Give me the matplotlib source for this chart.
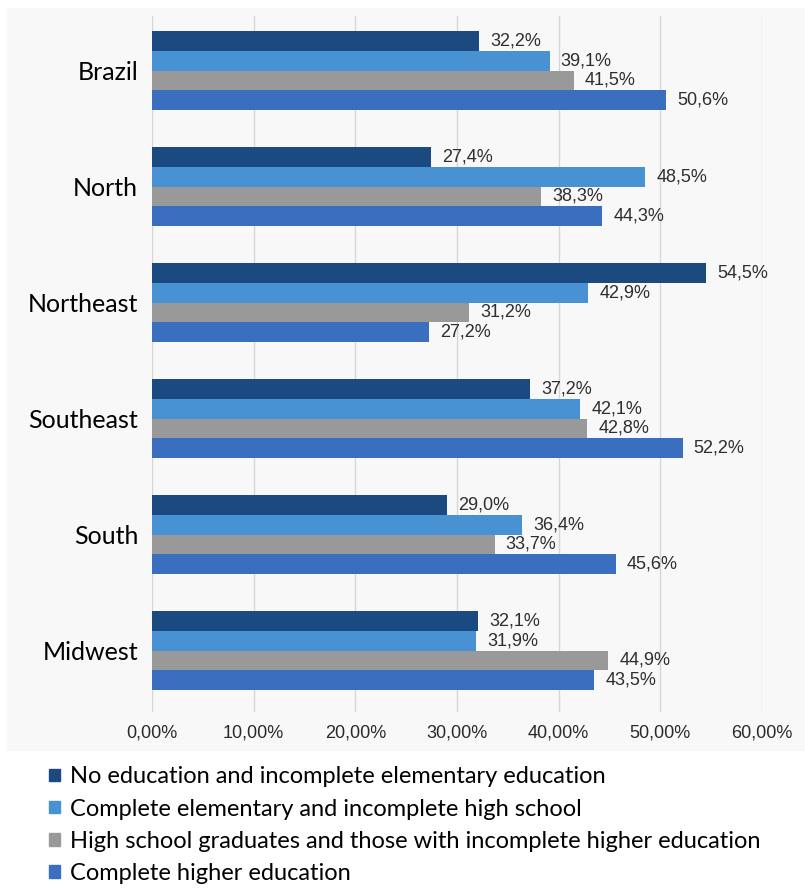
import numpy as np
import matplotlib
matplotlib.use('Agg')
from matplotlib import pyplot as plt
from matplotlib.patches import Patch, Rectangle

regions = ['Brazil', 'North', 'Northeast', 'Southeast', 'South', 'Midwest']
series_names = ['No education and incomplete elementary education',
                'Complete elementary and incomplete high school',
                'High school graduates and those with incomplete higher education',
                'Complete higher education']
no_education = [32.2, 27.4, 54.5, 37.2, 29.0, 32.1]
elementary = [39.1, 48.5, 42.9, 42.1, 36.4, 31.9]
high_school = [41.5, 38.3, 31.2, 42.8, 33.7, 44.9]
higher_ed = [50.6, 44.3, 27.2, 52.2, 45.6, 43.5]
xticks = [0, 10, 20, 30, 40, 50, 60]

colors = ['#1b4a80', '#4891d3', '#999999', '#3a6fc0']
series = [no_education, elementary, high_school, higher_ed]

fig = plt.figure(figsize=(8.05, 8.89), dpi=100)
fig.patches.append(Rectangle((7 / 805, 1 - 750 / 889), 798 / 805, 742 / 889,
                             transform=fig.transFigure, color='#f8f8f8', zorder=-10))
ax = fig.add_axes([152 / 805, 1 - 712 / 889, 610 / 805, 696 / 889])
ax.patch.set_alpha(0)
ax.set_zorder(5)

y = np.arange(len(regions))
h = 0.17
for j, vals in enumerate(series):
    pos = y + (j - 1.5) * h
    ax.barh(pos, vals, height=h, color=colors[j], zorder=2)
    for p, v in zip(pos, vals):
        ax.annotate(('%.1f%%' % v).replace('.', ','), (v, p), xytext=(8, 0),
                    textcoords='offset points', va='center', ha='left',
                    fontsize=13, color='#2e2e2e', family='Liberation Sans')

ax.set_xlim(0, 60)
ax.set_ylim(5.53, -0.47)
ax.set_xticks(xticks)
ax.set_xticklabels([('%.2f%%' % t).replace('.', ',') for t in xticks],
                   family='Liberation Sans', fontsize=13, color='#2a2a2a')
ax.set_yticks(y)
ax.set_yticklabels(regions, family='Lato', fontsize=18, color='black')
ax.tick_params(axis='x', length=0, pad=9)
ax.tick_params(axis='y', length=0, pad=10)
ax.grid(axis='x', color='#d6d6d6', linewidth=1, zorder=0)
ax.set_axisbelow(True)
for s in ax.spines.values():
    s.set_visible(False)

handles = [Patch(color=c) for c in colors]
fig.legend(handles, series_names, loc='upper left',
           bbox_to_anchor=(40 / 805, 1 - 757 / 889), frameon=False,
           prop={'family': 'Lato', 'size': 17}, handlelength=0.45, handleheight=0.45,
           handletextpad=0.4, labelspacing=0.47, borderaxespad=0)

plt.savefig('out.png', dpi=100)
